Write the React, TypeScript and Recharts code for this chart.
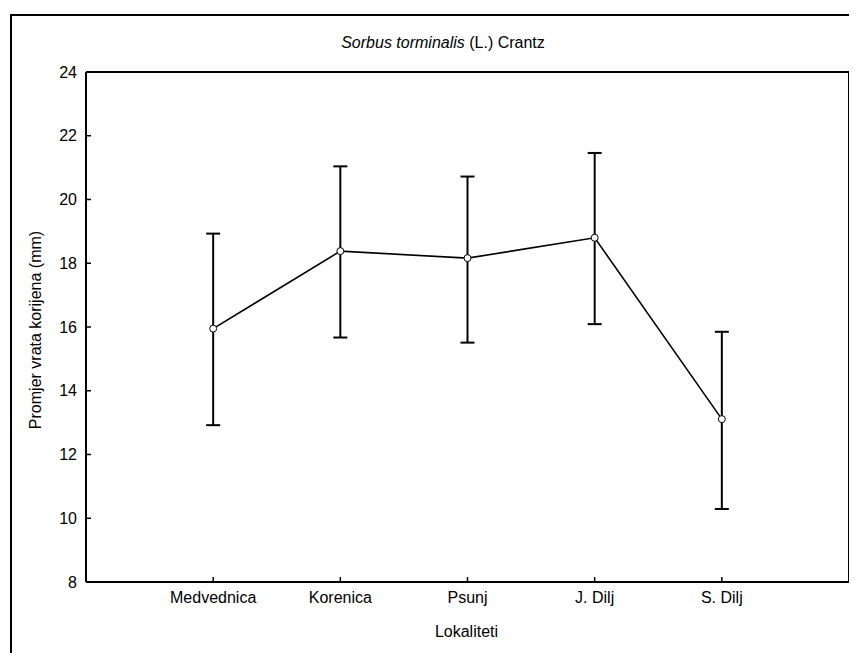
import {
  ComposedChart,
  Line,
  XAxis,
  YAxis,
  ErrorBar,
} from "recharts";

const locations = ["Medvednica", "Korenica", "Psunj", "J. Dilj", "S. Dilj"];
const means = [15.95, 18.38, 18.16, 18.8, 13.11];
const lowerBounds = [12.92, 15.67, 15.51, 16.09, 10.29];
const upperBounds = [18.93, 21.04, 20.72, 21.46, 15.85];
const yTicks = [8, 10, 12, 14, 16, 18, 20, 22, 24];

const data = locations.map((name, i) => ({
  pos: i + 1,
  name,
  mean: means[i],
  err: [means[i] - lowerBounds[i], upperBounds[i] - means[i]],
}));

const xTicks = data.map((d) => d.pos);
const font = "Arial, 'Liberation Sans', sans-serif";
const tickStyle = { fill: "#000", fontSize: 16, fontFamily: font };

export default function App() {
  return (
    <div style={{ position: "relative", width: 849, height: 645, fontFamily: font, color: "#000" }}>
      {/* outer frame, only left and top edges are visible */}
      <div
        style={{
          position: "absolute",
          left: 2,
          top: 6,
          width: 860,
          height: 660,
          borderLeft: "2px solid #000",
          borderTop: "2px solid #000",
        }}
      />
      <div
        style={{
          position: "absolute",
          left: 0,
          width: 870,
          top: 25,
          textAlign: "center",
          fontSize: 16,
          lineHeight: "20px",
        }}
      >
        <i>Sorbus torminalis</i> (L.) Crantz
      </div>
      <div
        style={{
          position: "absolute",
          left: 0,
          width: 917,
          top: 614,
          textAlign: "center",
          fontSize: 16,
          lineHeight: "20px",
        }}
      >
        Lokaliteti
      </div>
      <div
        style={{
          position: "absolute",
          left: 28 - 150,
          top: 322 - 10,
          width: 300,
          textAlign: "center",
          fontSize: 16,
          lineHeight: "20px",
          transform: "rotate(-90deg)",
        }}
      >
        Promjer vrata korijena (mm)
      </div>
      <div style={{ position: "absolute", left: 0, top: 0 }}>
        <ComposedChart
          width={849}
          height={645}
          data={data}
          margin={{ top: 63, right: 7, bottom: 70, left: 77 }}
        >
          <XAxis
            dataKey="pos"
            type="number"
            domain={[0, 6]}
            ticks={xTicks}
            tickFormatter={(v: number) => locations[v - 1]}
            height={1}
            tickSize={-5}
            tickMargin={15}
            axisLine={{ stroke: "#000", strokeWidth: 2 }}
            tickLine={{ stroke: "#000", strokeWidth: 1.5 }}
            tick={tickStyle}
            interval={0}
          />
          <XAxis
            xAxisId="top"
            orientation="top"
            dataKey="pos"
            type="number"
            domain={[0, 6]}
            ticks={xTicks}
            height={1}
            tickSize={-5}
            axisLine={{ stroke: "#000", strokeWidth: 2 }}
            tickLine={{ stroke: "#000", strokeWidth: 1.5 }}
            tick={false}
          />
          <YAxis
            type="number"
            domain={[8, 24]}
            ticks={yTicks}
            width={1}
            tickSize={-5}
            tickMargin={14}
            axisLine={{ stroke: "#000", strokeWidth: 2 }}
            tickLine={{ stroke: "#000", strokeWidth: 1.5 }}
            tick={tickStyle}
            interval={0}
          />
          <YAxis
            yAxisId="right"
            orientation="right"
            type="number"
            domain={[8, 24]}
            width={1}
            axisLine={{ stroke: "#000", strokeWidth: 2 }}
            tickLine={false}
            tick={false}
          />
          <Line
            dataKey="mean"
            stroke="#000"
            strokeWidth={1.6}
            dot={{ r: 3.5, fill: "#fff", stroke: "#000", strokeWidth: 1 }}
            activeDot={false}
            isAnimationActive={false}
          >
            <ErrorBar
              dataKey="err"
              direction="y"
              width={7}
              stroke="#000"
              strokeWidth={2}
              isAnimationActive={false}
            />
          </Line>
        </ComposedChart>
      </div>
    </div>
  );
}
